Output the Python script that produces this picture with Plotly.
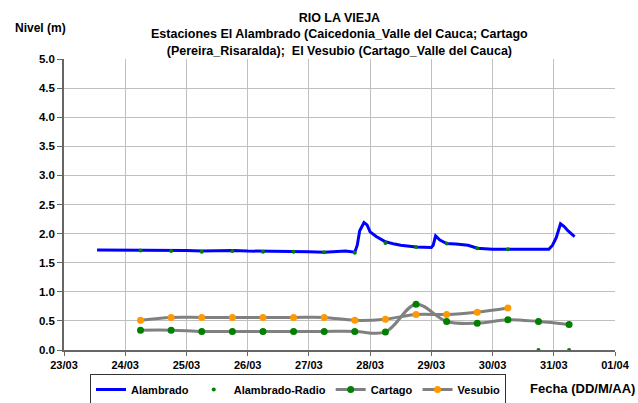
import plotly.graph_objects as go
from datetime import datetime, timedelta

BASE = datetime(2011, 3, 23)

def t(d):
    return BASE + timedelta(days=d)

# Alambrado (continuous level, m) — time in days since 23/03 00:00
alam_days = [0.54, 0.75, 1.0, 1.25, 1.5, 1.75, 2.0, 2.25, 2.5, 2.75, 3.0, 3.25, 3.5, 3.75,
             4.0, 4.25, 4.5, 4.6, 4.75, 4.79, 4.83, 4.9, 4.95, 5.0, 5.1, 5.25, 5.4, 5.5,
             5.75, 6.0, 6.03, 6.07, 6.14, 6.25, 6.4, 6.6, 6.75, 7.0, 7.25, 7.5, 7.75,
             7.92, 7.98, 8.04, 8.11, 8.17, 8.23, 8.34]
alam_vals = [1.72, 1.72, 1.71, 1.71, 1.72, 1.71, 1.71, 1.70, 1.71, 1.71, 1.70, 1.70, 1.70, 1.70,
             1.69, 1.68, 1.69, 1.70, 1.68, 1.80, 2.05, 2.19, 2.15, 2.03, 1.95, 1.86, 1.82, 1.80,
             1.77, 1.76, 1.80, 1.96, 1.89, 1.83, 1.82, 1.80, 1.75, 1.73, 1.73, 1.73, 1.74,
             1.73, 1.80, 1.93, 2.17, 2.12, 2.05, 1.95]

# Alambrado-Radio, Cartago (every 12 h from 24/03 06:00)
radio_days = [1.25, 1.75, 2.25, 2.75, 3.25, 3.75, 4.25, 4.75, 5.25, 5.75, 6.25, 6.75, 7.25, 7.75, 8.25]
radio_vals = [1.71, 1.70, 1.69, 1.70, 1.69, 1.69, 1.68, 1.67, 1.84, 1.77, 1.83, 1.75, 1.73, 0.0, 0.0]

cartago_days = [1.25, 1.75, 2.25, 2.75, 3.25, 3.75, 4.25, 4.75, 5.25, 5.75, 6.25, 6.75, 7.25, 7.75, 8.25]
cartago_vals = [0.34, 0.34, 0.32, 0.32, 0.32, 0.32, 0.32, 0.32, 0.31, 0.785, 0.49, 0.46, 0.52, 0.49, 0.44]

vesubio_days = [1.25, 1.75, 2.25, 2.75, 3.25, 3.75, 4.25, 4.75, 5.25, 5.75, 6.25, 6.75, 7.25]
vesubio_vals = [0.51, 0.56, 0.56, 0.56, 0.56, 0.56, 0.56, 0.51, 0.53, 0.61, 0.61, 0.65, 0.72]

y_ticks = [0.0, 0.5, 1.0, 1.5, 2.0, 2.5, 3.0, 3.5, 4.0, 4.5, 5.0]
x_tick_days = [0, 1, 2, 3, 4, 5, 6, 7, 8, 9]
x_tick_labels = ["23/03", "24/03", "25/03", "26/03", "27/03", "28/03", "29/03", "30/03", "31/03", "01/04"]

title_lines = ["RIO LA VIEJA",
               "Estaciones El Alambrado (Caicedonia_Valle del Cauca; Cartago",
               "(Pereira_Risaralda);  El Vesubio (Cartago_Valle del Cauca)"]

W, H = 638, 403
ML, MR, MT, MB = 64, 23, 59, 53
PW, PH = W - ML - MR, H - MT - MB

def px(xp):
    return (xp - ML) / PW

def py(yp):
    return (H - MB - yp) / PH

def b(s):
    return "<b>" + s + "</b>"

FONT = "Liberation Sans"

def F(size):
    return dict(family=FONT, size=size, color="black", weight="bold")

fig = go.Figure()
fig.add_trace(go.Scatter(x=[t(d) for d in alam_days], y=alam_vals, mode="lines",
                         name=b("Alambrado"), line=dict(color="#0000ff", width=3)))
fig.add_trace(go.Scatter(x=[t(d) for d in radio_days], y=radio_vals, mode="markers",
                         name=b("Alambrado-Radio"), marker=dict(color="#008000", size=4),
                         cliponaxis=False))
fig.add_trace(go.Scatter(x=[t(d) for d in cartago_days], y=cartago_vals, mode="lines+markers",
                         name=b("Cartago"), line=dict(color="#808080", width=3, shape="spline"),
                         marker=dict(color="#008000", size=7)))
fig.add_trace(go.Scatter(x=[t(d) for d in vesubio_days], y=vesubio_vals, mode="lines+markers",
                         name=b("Vesubio"), line=dict(color="#808080", width=3, shape="spline"),
                         marker=dict(color="#ff9900", size=7)))

annotations = [
    dict(text="<br>".join(b(s) for s in title_lines), x=0.5, y=py(34), xref="paper", yref="paper",
         xanchor="center", yanchor="middle", showarrow=False, font=F(12.5), align="center"),
    dict(text=b("Nivel (m)"), x=px(13), y=py(28), xref="paper", yref="paper",
         xanchor="left", yanchor="middle", showarrow=False, font=F(12)),
    dict(text=b("Fecha (DD/M/AA)"), x=px(528), y=py(388), xref="paper", yref="paper",
         xanchor="left", yanchor="middle", showarrow=False, font=F(13)),
]

fig.update_layout(
    width=W, height=H, autosize=False,
    margin=dict(l=ML, r=MR, t=MT, b=MB, pad=0, autoexpand=False),
    paper_bgcolor="white", plot_bgcolor="white",
    font=dict(family=FONT, size=11, color="black"),
    showlegend=True,
    legend=dict(orientation="h", x=px(90), y=py(374), xanchor="left", yanchor="top",
                bordercolor="#333333", borderwidth=1, bgcolor="white",
                font=F(11), itemwidth=30, tracegroupgap=0),
    annotations=annotations,
)
fig.update_xaxes(type="date", range=[t(0), t(9)],
                 tickvals=[t(d) for d in x_tick_days], ticktext=[b(s) for s in x_tick_labels],
                 showgrid=True, gridcolor="#c0c0c0", gridwidth=1,
                 showline=True, linecolor="#666666", linewidth=1.5,
                 ticks="outside", ticklen=4, tickcolor="#666666",
                 tickfont=F(11), zeroline=False)
fig.update_yaxes(range=[0, 5], tickvals=y_ticks, ticktext=[b(f"{v:.1f}") for v in y_ticks],
                 showgrid=True, gridcolor="#c0c0c0", gridwidth=1,
                 showline=True, linecolor="#666666", linewidth=1.5,
                 ticks="outside", ticklen=5, tickcolor="#666666",
                 tickfont=F(11.5), zeroline=False)

fig.write_html("out.html", config={"displayModeBar": False},
               post_script="document.body.style.margin='0';document.body.style.overflow='hidden';")
